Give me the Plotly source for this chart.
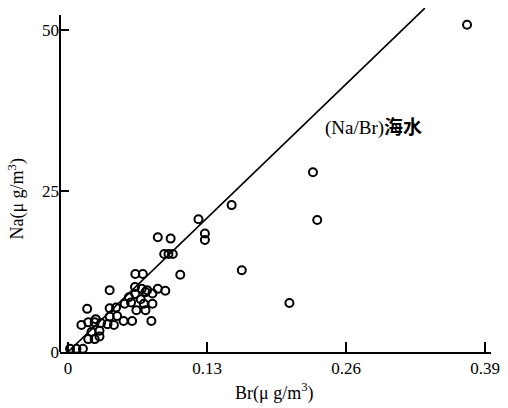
import plotly.graph_objects as go

# Scatter data (Br in ug/m3, Na in ug/m3)
br = [0.002, 0.008, 0.014, 0.019, 0.025, 0.0295, 0.022, 0.0295,
      0.0126, 0.019, 0.025, 0.031, 0.037, 0.043, 0.052, 0.060, 0.078,
      0.026, 0.039, 0.046,
      0.039, 0.045, 0.053, 0.059, 0.064, 0.071, 0.079, 0.0725,
      0.057, 0.063, 0.068, 0.0725, 0.079, 0.084, 0.091,
      0.0627, 0.069, 0.074,
      0.063, 0.070, 0.039, 0.018,
      0.084, 0.096, 0.090, 0.094, 0.098, 0.105,
      0.122, 0.128, 0.128, 0.153, 0.1625,
      0.229, 0.233, 0.207, 0.373]
na = [0.5, 0.5, 0.5, 2.0, 2.0, 2.4, 3.1, 3.3,
      4.2, 4.6, 4.6, 4.5, 4.3, 4.2, 4.8, 4.8, 4.8,
      5.1, 5.5, 5.6,
      6.8, 6.9, 7.5, 7.7, 6.5, 7.5, 7.5, 6.5,
      8.5, 9.0, 8.2, 9.3, 9.1, 9.8, 9.5,
      10.1, 9.8, 9.6,
      12.1, 12.1, 9.6, 6.7,
      17.8, 17.6, 15.2, 15.2, 15.2, 12.0,
      20.6, 18.4, 17.4, 22.8, 12.7,
      27.9, 20.5, 7.6, 50.8]

# Seawater Na/Br reference line
sea_br = [0.0, 0.3336]
sea_ratio = 160.0
sea_na = [b * sea_ratio for b in sea_br]

x_ticks = [0, 0.13, 0.26, 0.39]
x_tick_text = ["0", "0.13", "0.26", "0.39"]
y_ticks = [0, 25, 50]
y_tick_text = ["0", "25", "50"]

FONT = "Liberation Serif, Times New Roman, Noto Sans CJK SC, serif"

fig = go.Figure()
fig.add_trace(go.Scatter(
    x=sea_br, y=sea_na, mode="lines",
    line=dict(color="black", width=1.7),
    showlegend=False, hoverinfo="skip",
))
fig.add_trace(go.Scatter(
    x=br, y=na, mode="markers",
    marker=dict(symbol="circle-open", size=8, color="black",
                line=dict(color="black", width=2)),
    cliponaxis=False, showlegend=False,
))

# vertical axis line (ends below the top of the plotting area)
fig.add_shape(type="line", xref="paper", yref="y",
              x0=0, x1=0, y0=0, y1=52.3,
              line=dict(color="black", width=2))

fig.add_annotation(x=0.286, y=34.8, xref="x", yref="y",
                   text="(Na/Br)<b>海水</b>", showarrow=False,
                   font=dict(family=FONT, size=19, color="black"))

# axis titles
fig.add_annotation(x=0.497, y=-0.116, xref="paper", yref="paper",
                   xanchor="center", yanchor="middle",
                   text="Br(μ g/m<sup>3</sup>)", showarrow=False,
                   font=dict(family=FONT, size=18, color="black"))
fig.add_annotation(x=-0.1007, y=0.445, xref="paper", yref="paper",
                   xanchor="center", yanchor="middle",
                   text="Na(μ g/m<sup>3</sup>)", showarrow=False, textangle=-90,
                   font=dict(family=FONT, size=18, color="black"))

fig.update_layout(
    width=508, height=408,
    margin=dict(l=60, r=11, t=8, b=56),
    paper_bgcolor="white", plot_bgcolor="white",
    font=dict(family=FONT, size=17, color="black"),
    xaxis=dict(
        range=[-0.0074, 0.3954],
        tickvals=x_ticks, ticktext=x_tick_text,
        ticks="inside", ticklen=10, tickwidth=1.5, tickcolor="black",
        showline=True, linecolor="black", linewidth=2,
        showgrid=False, zeroline=False,
    ),
    yaxis=dict(
        range=[0, 53.4],
        tickvals=y_ticks, ticktext=y_tick_text,
        ticks="inside", ticklen=9, tickwidth=2, tickcolor="black",
        showline=False, showgrid=False, zeroline=False,
    ),
)

fig.write_html("out.html")
